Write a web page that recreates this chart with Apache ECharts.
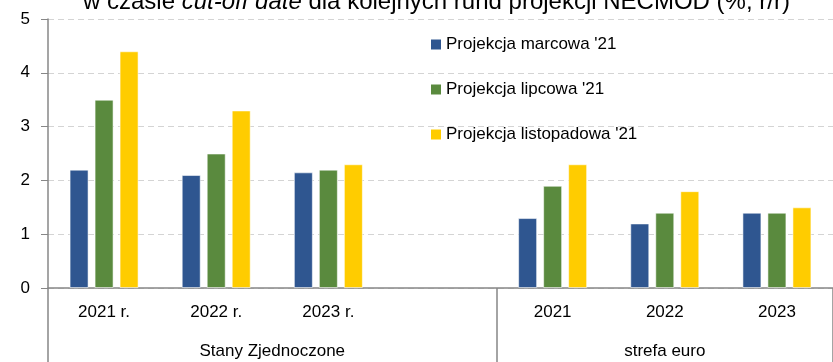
<!DOCTYPE html>
<html>
<head>
<meta charset="utf-8">
<script src="https://cdn.jsdelivr.net/npm/echarts@6/dist/echarts.min.js"></script>
<style>
  html, body { margin: 0; padding: 0; background: #fff; }
  #chart { width: 833px; height: 362px; }
</style>
</head>
<body>
<div id="chart"></div>
<script>
// Categories: US years, an empty spacer, then euro-area years
const categories = ['2021 r.', '2022 r.', '2023 r.', '', '2021', '2022', '2023'];
const seriesNames = ['Projekcja marcowa \'21', 'Projekcja lipcowa \'21', 'Projekcja listopadowa \'21'];
const marcowa = [2.2, 2.1, 2.15, null, 1.3, 1.2, 1.4];
const lipcowa = [3.5, 2.5, 2.2, null, 1.9, 1.4, 1.4];
const listopadowa = [4.4, 3.3, 2.3, null, 2.3, 1.8, 1.5];
// Region captions and the category index they sit under (centre of their block)
const regionNames = ['Stany Zjednoczone', 'strefa euro'];
const regionCentres = [1.5, 5];
const yTicks = [0, 1, 2, 3, 4, 5];

const FONT = '"Liberation Sans", Arial, sans-serif';
const colors = ['#2F5690', '#5A8A3E', '#FFCC00'];
const axisGrey = '#878787';

const chart = echarts.init(document.getElementById('chart'));

function barSeries(name, data, color) {
  return {
    name: name,
    type: 'bar',
    data: data,
    barWidth: 19,
    barGap: '31.6%',
    itemStyle: { color: color, borderColor: 'rgba(255,255,255,0.55)', borderWidth: 1 },
    emphasis: { disabled: true }
  };
}

chart.setOption({
  animation: false,
  textStyle: { fontFamily: FONT },
  title: {
    left: 83,
    top: -10,
    padding: 0,
    text: '{n|w czasie }{i|cut-off date}{n| dla kolejnych rund projekcji NECMOD (%, r/r)}',
    textStyle: {
      fontWeight: 'normal',
      rich: {
        n: { fontSize: 24, lineHeight: 24, color: '#000', fontWeight: 'normal', fontFamily: FONT },
        i: { fontSize: 24, lineHeight: 24, color: '#000', fontWeight: 'normal', fontStyle: 'italic', fontFamily: FONT }
      }
    }
  },
  legend: {
    orient: 'vertical',
    left: 426,
    top: 31,
    itemWidth: 10,
    itemHeight: 10,
    itemGap: 28,
    icon: 'rect',
    itemStyle: { borderWidth: 0 },
    textStyle: { fontSize: 17, lineHeight: 17, color: '#000', fontFamily: FONT },
    data: seriesNames
  },
  grid: { left: 48, top: 19, width: 795, height: 269, containLabel: false },
  xAxis: [
    {
      type: 'category',
      data: categories,
      position: 'bottom',
      axisLine: { show: true, onZero: false, lineStyle: { color: axisGrey, width: 1.5 } },
      axisTick: {
        show: true,
        interval: function (index) { return index === 0 || index === 4; },
        length: 76,
        lineStyle: { color: axisGrey, width: 1.5 }
      },
      axisLabel: { interval: 0, margin: 16, fontSize: 17, color: '#000', fontFamily: FONT },
      splitLine: { show: false }
    },
    {
      type: 'value',
      position: 'bottom',
      min: -0.5,
      max: 6.5,
      interval: 0.5,
      axisLine: { show: false, onZero: false },
      axisTick: { show: false },
      splitLine: { show: false },
      axisLabel: {
        margin: 55,
        fontSize: 17,
        color: '#000',
        fontFamily: FONT,
        showMinLabel: false,
        showMaxLabel: false,
        formatter: function (v) {
          const i = regionCentres.indexOf(v);
          return i >= 0 ? regionNames[i] : '';
        }
      }
    }
  ],
  yAxis: {
    type: 'value',
    position: 'left',
    min: yTicks[0],
    max: yTicks[yTicks.length - 1],
    interval: 1,
    axisLine: { show: true, onZero: false, lineStyle: { color: axisGrey, width: 1.5 } },
    axisTick: { show: true, length: 7, lineStyle: { color: axisGrey, width: 1 } },
    axisLabel: { margin: 18, fontSize: 17, color: '#000', fontFamily: FONT },
    splitLine: { show: true, lineStyle: { color: '#d4d4d4', width: 1, type: [6, 4] } }
  },
  series: [
    barSeries(seriesNames[0], marcowa, colors[0]),
    barSeries(seriesNames[1], lipcowa, colors[1]),
    barSeries(seriesNames[2], listopadowa, colors[2])
  ]
});
</script>
</body>
</html>
